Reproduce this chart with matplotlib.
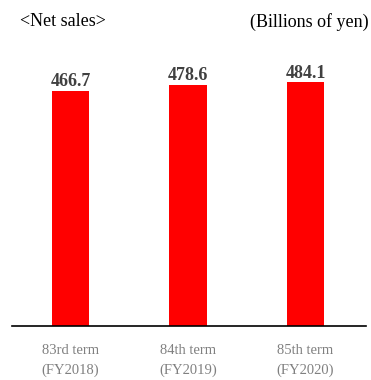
import matplotlib.pyplot as plt

terms = ["83rd term\n(FY2018)", "84th term\n(FY2019)", "85th term\n(FY2020)"]
net_sales = [466.7, 478.6, 484.1]

plt.rcParams['font.family'] = ['Liberation Serif', 'DejaVu Serif']

fig = plt.figure(figsize=(3.71, 3.80), dpi=100)
ax = fig.add_axes([12 / 371, 54 / 380, 354 / 371, 266 / 380])

x = range(len(net_sales))
ax.bar(x, net_sales, width=0.315, color='#ff0000', zorder=2)

for xi, v in zip(x, net_sales):
    ax.text(xi, v + 1, f"{v:.1f}", ha='center', va='bottom',
            fontsize=13, fontweight='bold', color='#404040')

ax.set_xlim(-0.498, 2.515)
ax.set_ylim(0, 528)

for s in ['top', 'right', 'left']:
    ax.spines[s].set_visible(False)
ax.spines['bottom'].set_linewidth(1.2)
ax.spines['bottom'].set_color('black')
ax.set_yticks([])
ax.set_xticks(list(x))
ax.set_xticklabels(terms, fontsize=10.5, color='#808080', linespacing=1.65)
ax.tick_params(axis='x', length=0, pad=13)

fig.text(20 / 371, 1 - 22 / 380, "<Net sales>", fontsize=13, va='center', ha='left')
fig.text(369 / 371, 1 - 22 / 380, "(Billions of yen)", fontsize=13, va='center', ha='right')

fig.savefig("out.png", dpi=100)
